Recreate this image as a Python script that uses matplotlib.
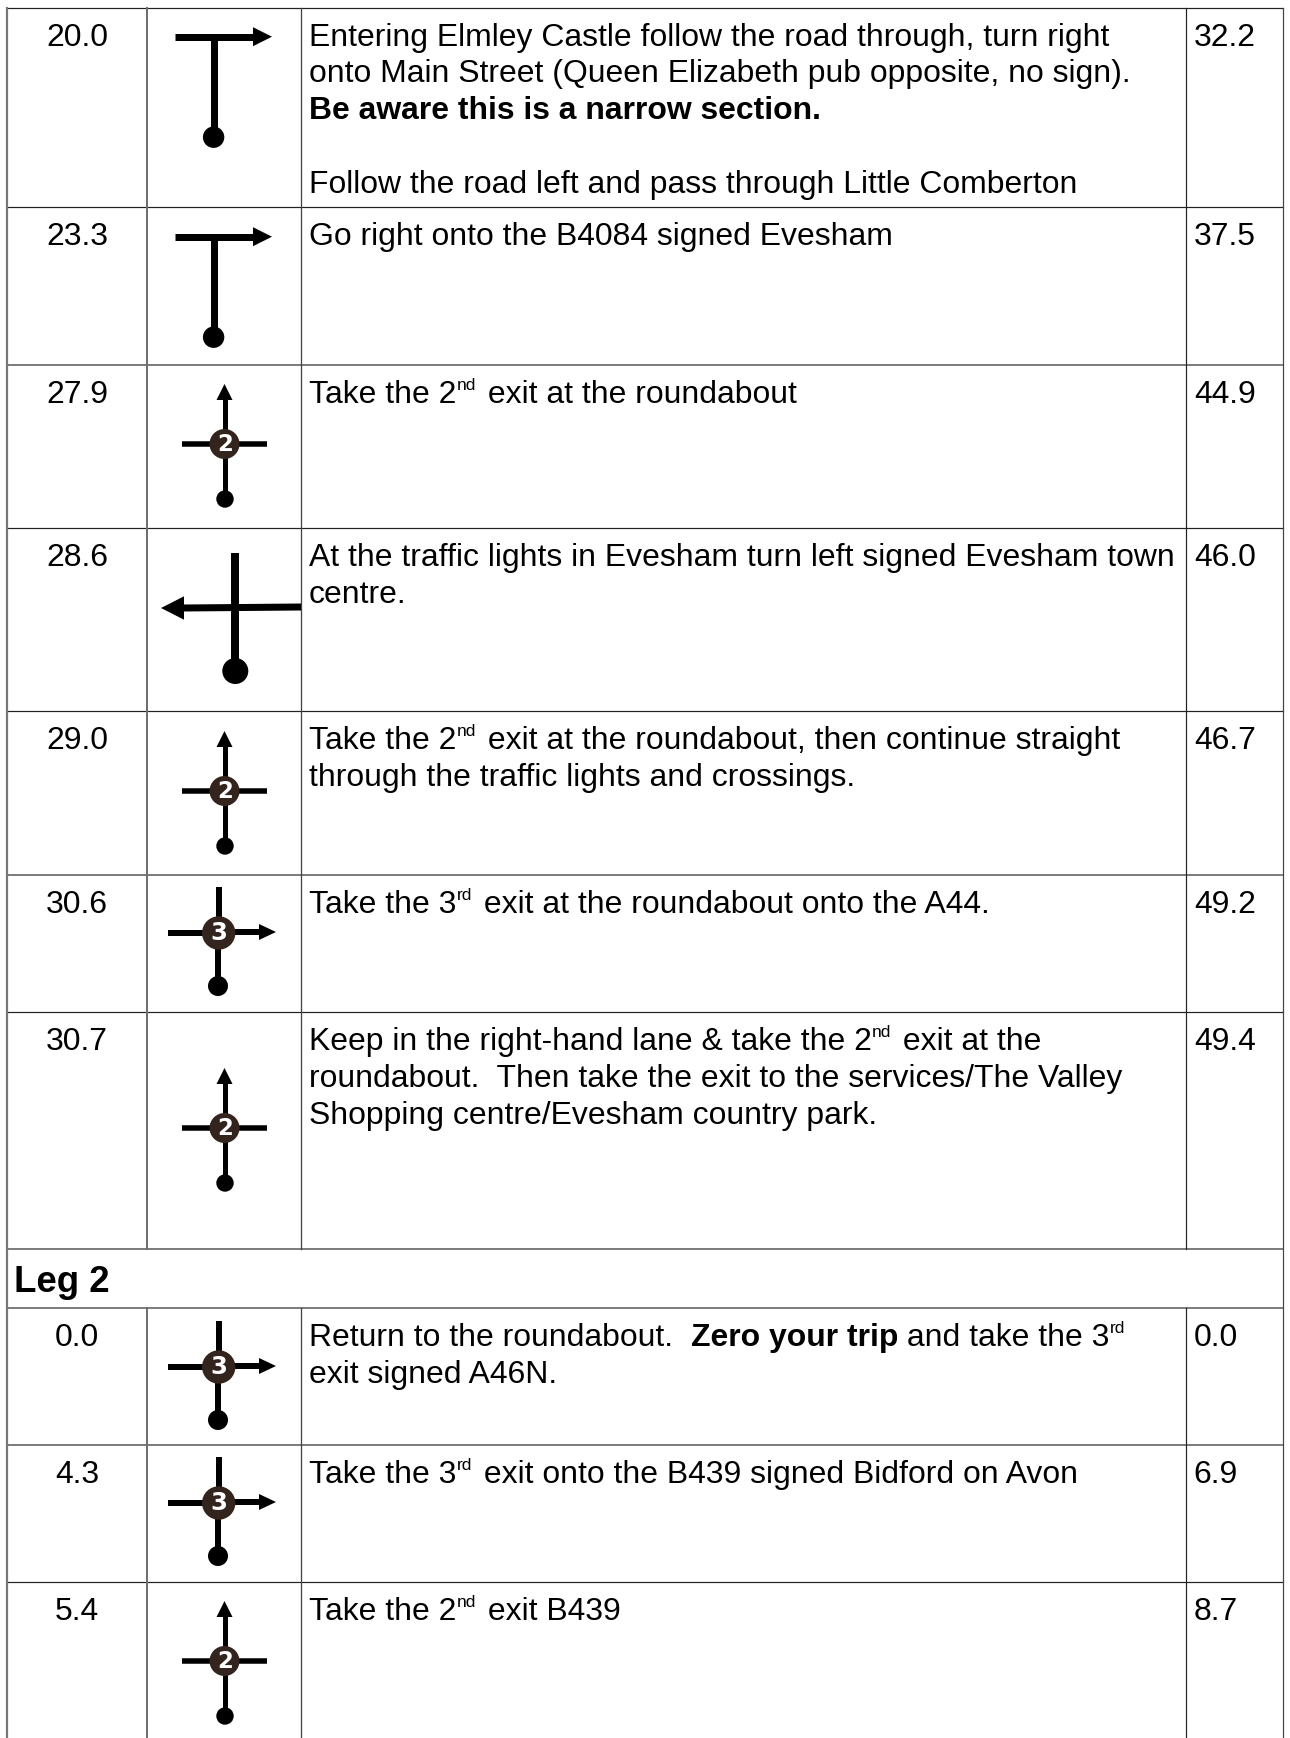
import matplotlib
matplotlib.use("Agg")
import matplotlib.pyplot as plt
from matplotlib.patches import Circle, Polygon

W, H = 1290, 1738
FONT = "Liberation Sans"

# ---- data ----
miles = ["20.0", "23.3", "27.9", "28.6", "29.0", "30.6", "30.7", None, "0.0", "4.3", "5.4"]
kms = ["32.2", "37.5", "44.9", "46.0", "46.7", "49.2", "49.4", None, "0.0", "6.9", "8.7"]
icons = ["T", "T", "R2", "X", "R2", "R3", "R2", None, "R3", "R3", "R2"]
N, B, S = "n", "b", "s"
instructions = [
    [[("Entering Elmley Castle follow the road through, turn right", N)],
     [("onto Main Street (Queen Elizabeth pub opposite, no sign).", N)],
     [("Be aware this is a narrow section.", B)],
     [],
     [("Follow the road left and pass through Little Comberton", N)]],
    [[("Go right onto the B4084 signed Evesham", N)]],
    [[("Take the 2", N), ("nd", S), (" exit at the roundabout", N)]],
    [[("At the traffic lights in Evesham turn left signed Evesham town", N)],
     [("centre.", N)]],
    [[("Take the 2", N), ("nd", S), (" exit at the roundabout, then continue straight", N)],
     [("through the traffic lights and crossings.", N)]],
    [[("Take the 3", N), ("rd", S), (" exit at the roundabout onto the A44.", N)]],
    [[("Keep in the right-hand lane & take the 2", N), ("nd", S), (" exit at the", N)],
     [("roundabout.  Then take the exit to the services/The Valley", N)],
     [("Shopping centre/Evesham country park.", N)]],
    None,
    [[("Return to the roundabout.  ", N), ("Zero your trip", B), (" and take the 3", N), ("rd", S)],
     [("exit signed A46N.", N)]],
    [[("Take the 3", N), ("rd", S), (" exit onto the B439 signed Bidford on Avon", N)]],
    [[("Take the 2", N), ("nd", S), (" exit B439", N)]],
]
section_title = "Leg 2"

# ---- layout (pixels) ----
row_tops = [7.5, 207, 365, 528, 711, 875, 1012, 1249, 1308, 1445, 1582]
icon_y = [36.7, 236.7, 444, 608, 791, 933, 1128, None, 1367, 1503, 1661]
col_x = [7, 147, 301, 1185.5, 1283]
dark_rows = {0, 1, 3, 4, 6, 10}
LINE_STEP = 36.7
BASE_OFF = 38.2
FS = 22.95
FS_SUP = 12.5
SUP_PAD = 3.0
FS_LEG = 26.4
BLACK = "#000000"
BROWN = "#33241e"

fig = plt.figure(figsize=(W / 100, H / 100), dpi=100, facecolor="white")
ax = fig.add_axes([0, 0, 1, 1])
ax.set_xlim(0, W)
ax.set_ylim(H, 0)
ax.axis("off")
px = 0.72
renderer = fig.canvas.get_renderer()


def style_kw(kind):
    return {N: dict(fontsize=FS, fontweight="normal"),
            B: dict(fontsize=FS, fontweight="bold"),
            S: dict(fontsize=FS_SUP, fontweight="normal")}[kind]


def advance(s, kind):
    kw = style_kw(kind)
    a = ax.text(0, 0, "H" + s + "H", family=FONT, **kw)
    b = ax.text(0, 0, "HH", family=FONT, **kw)
    w = a.get_window_extent(renderer).width - b.get_window_extent(renderer).width
    a.remove()
    b.remove()
    return w


def draw_runs(x, y, runs):
    for s, kind in runs:
        dy = -13 if kind == S else 0
        ax.text(x, y + dy, s, family=FONT, va="baseline", ha="left", color="black", **style_kw(kind))
        x += advance(s, kind) + (SUP_PAD if kind == S else 0)


def seg(x0, y0, x1, y1, w):
    ax.plot([x0, x1], [y0, y1], color=BLACK, lw=w * px, solid_capstyle="butt", zorder=3)


def head(pts):
    ax.add_patch(Polygon(pts, closed=True, color=BLACK, lw=0, zorder=3))


def dot(x, y, r, color=BLACK, z=3):
    ax.add_patch(Circle((x, y), r, color=color, lw=0, zorder=z))


def icon_t(cy):
    seg(174.5, cy, 254, cy, 7)
    head([(253, cy - 9.5), (272, cy), (253, cy + 9.5)])
    seg(213.6, cy, 213.6, cy + 100, 7)
    dot(213.6, cy + 100.5, 10.7)


def icon_r2(cy):
    seg(224.5, cy - 45, 224.5, cy + 55, 5)
    head([(216.5, cy - 44), (224.5, cy - 60), (232.5, cy - 44)])
    seg(181.7, cy, 267, cy, 5.5)
    dot(225, cy + 55, 8.7)
    dot(224.5, cy, 15, BROWN, 4)
    ax.text(224.8, cy + 0.5, "2", family="DejaVu Sans", fontweight="bold", fontsize=16.5,
            color="white", ha="center", va="center", zorder=5)


def icon_r3(cy):
    seg(219, cy - 46.5, 219, cy, 6)
    seg(218, cy, 218, cy + 53, 6)
    seg(168, cy, 220, cy, 6)
    seg(220, cy - 1, 260, cy - 1, 6)
    head([(259, cy - 9), (276, cy - 1), (259, cy + 7)])
    dot(218, cy + 53, 10)
    dot(218.7, cy, 16.7, BROWN, 4)
    ax.text(219, cy + 0.5, "3", family="DejaVu Sans", fontweight="bold", fontsize=17.5,
            color="white", ha="center", va="center", zorder=5)


def icon_x(cy):
    seg(234.5, cy - 55.5, 234.5, cy + 60, 8)
    seg(183, cy, col_x[2], cy - 1, 7)
    head([(184, cy - 11.7), (161, cy), (184, cy + 11.7)])
    dot(235.3, cy + 63, 13)


draw_icon = {"T": icon_t, "R2": icon_r2, "R3": icon_r3, "X": icon_x}

# grid
leg_row = miles.index(None)
for i, y in enumerate(row_tops):
    if i in dark_rows:
        ax.plot([col_x[0], col_x[-1]], [y, y], color="#222222", lw=1.2 * px, zorder=2)
    else:
        ax.plot([col_x[0], col_x[-1]], [y, y], color="#707070", lw=1.8 * px, zorder=2)
v_styles = [("#777777", 2.2), ("#707070", 2.0), ("#444444", 1.3), ("#222222", 1.2), ("#444444", 1.2)]
for x, (c, w) in zip(col_x, v_styles):
    if x == col_x[0] or x == col_x[-1]:
        ax.plot([x, x], [row_tops[0], H], color=c, lw=w * px, zorder=2)
    else:
        ax.plot([x, x], [row_tops[0], row_tops[leg_row]], color=c, lw=w * px, zorder=2)
        ax.plot([x, x], [row_tops[leg_row + 1], H], color=c, lw=w * px, zorder=2)

# rows
for i, top in enumerate(row_tops):
    base = top + BASE_OFF
    if i == leg_row:
        ax.text(14.5, top + 43, section_title, family=FONT, fontweight="bold", fontsize=FS_LEG,
                va="baseline", ha="left", color="black")
        continue
    ax.text((col_x[0] + col_x[1]) / 2, base, miles[i], family=FONT, fontsize=FS,
            ha="center", va="baseline", color="black")
    ax.text(1193.8, base, kms[i], family=FONT, fontsize=FS, ha="left", va="baseline", color="black")
    for j, runs in enumerate(instructions[i]):
        draw_runs(309, base + j * LINE_STEP, runs)
    draw_icon[icons[i]](icon_y[i])

fig.savefig("out.png", dpi=100, facecolor="white")
